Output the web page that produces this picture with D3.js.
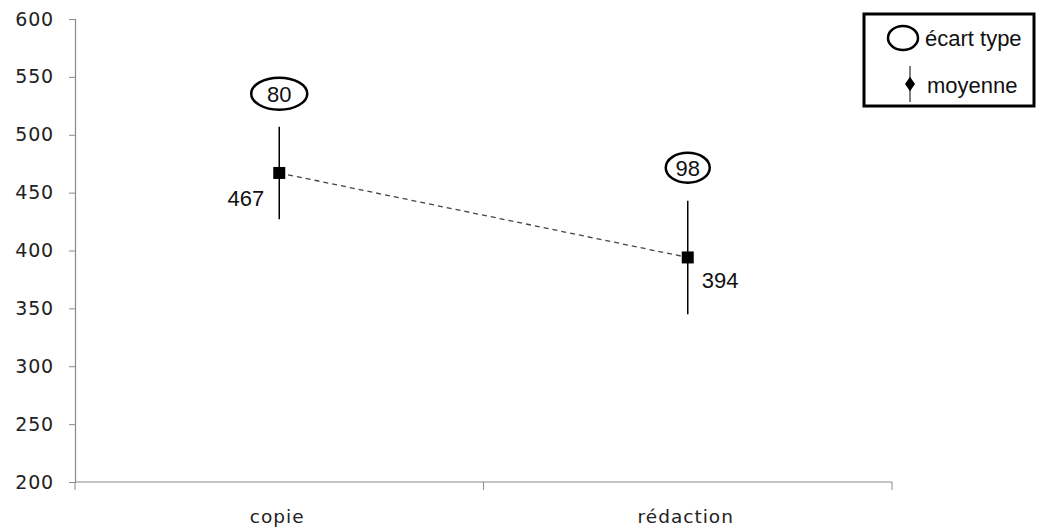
<!DOCTYPE html>
<html>
<head>
<meta charset="utf-8">
<script src="https://cdn.jsdelivr.net/npm/d3@7"></script>
<style>
  html, body { margin: 0; padding: 0; background: #fff; }
  svg { display: block; }
</style>
</head>
<body>
<svg id="chart" width="1041" height="531"></svg>
<script>
// Task conditions and their measured results
const categories = ["copie", "rédaction"];
const means = [467, 394];
const stdDevs = [80, 98];
const yTicks = [200, 250, 300, 350, 400, 450, 500, 550, 600];
const legendLabels = ["écart type", "moyenne"];

const svg = d3.select("#chart");
const W = 1041, H = 531;
svg.append("rect").attr("width", W).attr("height", H).attr("fill", "#fff");

const x = d3.scaleBand().domain(categories).range([75, 892]).paddingInner(0).paddingOuter(0);
const y = d3.scaleLinear().domain([200, 600]).range([482, 19]);

const axisColor = "#8a8a8a";
const tickFont = "'DejaVu Sans', Verdana, sans-serif";
const labelFont = "'Liberation Sans', Arial, sans-serif";

// Y axis
const yAxis = svg.append("g")
  .attr("transform", `translate(${x.range()[0]},0)`)
  .call(d3.axisLeft(y).tickValues(yTicks).tickSize(6).tickPadding(15).tickFormat(d3.format("d")));
yAxis.select(".domain").attr("stroke", axisColor).attr("stroke-width", 1.2);
yAxis.selectAll(".tick line").attr("stroke", axisColor);
yAxis.selectAll(".tick text")
  .attr("fill", "#222")
  .style("font-family", tickFont)
  .style("font-size", "19px")
  .style("letter-spacing", "0.8px");

// X axis: baseline with ticks on band boundaries, labels centred in bands
const xg = svg.append("g");
xg.append("line")
  .attr("x1", x.range()[0]).attr("x2", x.range()[1])
  .attr("y1", y(200)).attr("y2", y(200))
  .attr("stroke", axisColor).attr("stroke-width", 1.2);
const bounds = categories.map(c => x(c)).concat([x.range()[1]]);
xg.selectAll("line.tk").data(bounds).join("line")
  .attr("class", "tk")
  .attr("x1", d => d).attr("x2", d => d)
  .attr("y1", y(200)).attr("y2", y(200) + 8)
  .attr("stroke", axisColor);
xg.selectAll("text").data(categories).join("text")
  .attr("x", d => x(d) + x.bandwidth() / 2 - 2)
  .attr("y", 523)
  .attr("text-anchor", "middle")
  .attr("fill", "#222")
  .style("font-family", tickFont)
  .style("font-size", "18.5px")
  .style("letter-spacing", "1px")
  .text(d => d);

const cx = c => x(c) + x.bandwidth() / 2;

// Dashed line joining the means
const line = d3.line().x((d, i) => cx(categories[i])).y(d => y(d));
svg.append("path")
  .datum(means)
  .attr("d", line)
  .attr("fill", "none")
  .attr("stroke", "#444")
  .attr("stroke-width", 1.3)
  .attr("stroke-dasharray", "5,4");

// Error bars: mean ± half the standard deviation
svg.selectAll("line.err").data(categories).join("line")
  .attr("class", "err")
  .attr("x1", c => cx(c)).attr("x2", c => cx(c))
  .attr("y1", (c, i) => y(means[i] + stdDevs[i] / 2))
  .attr("y2", (c, i) => y(means[i] - stdDevs[i] / 2))
  .attr("stroke", "#000")
  .attr("stroke-width", 1.5);

// Mean markers
const ms = 12;
svg.selectAll("rect.mk").data(categories).join("rect")
  .attr("class", "mk")
  .attr("x", c => cx(c) - ms / 2)
  .attr("y", (c, i) => y(means[i]) - ms / 2)
  .attr("width", ms).attr("height", ms)
  .attr("fill", "#000");

// Mean value labels
const valueOffsets = [{dx: -15, dy: 33, anchor: "end"}, {dx: 14, dy: 30.5, anchor: "start"}];
svg.selectAll("text.val").data(categories).join("text")
  .attr("class", "val")
  .attr("x", (c, i) => cx(c) + valueOffsets[i].dx)
  .attr("y", (c, i) => y(means[i]) + valueOffsets[i].dy)
  .attr("text-anchor", (c, i) => valueOffsets[i].anchor)
  .style("font-family", labelFont)
  .style("font-size", "22px")
  .attr("fill", "#111")
  .text((c, i) => means[i]);

// Standard deviation labels in ellipses above each bar
const sdShape = [{rx: 28, ry: 16}, {rx: 22, ry: 15}];
const sdG = svg.selectAll("g.sd").data(categories).join("g")
  .attr("class", "sd")
  .attr("transform", (c, i) => `translate(${cx(c)},${y(means[i] + stdDevs[i] / 2) - 33})`);
sdG.append("ellipse")
  .attr("rx", (c, i) => sdShape[i].rx).attr("ry", (c, i) => sdShape[i].ry)
  .attr("fill", "#fff").attr("stroke", "#000").attr("stroke-width", 2.5);
sdG.append("text")
  .attr("text-anchor", "middle")
  .attr("dy", "0.36em")
  .style("font-family", labelFont)
  .style("font-size", "22px")
  .attr("fill", "#111")
  .text((c, i) => stdDevs[i]);

// Legend
const lg = svg.append("g");
lg.append("rect")
  .attr("x", 864).attr("y", 14).attr("width", 170).attr("height", 92)
  .attr("fill", "#fff").attr("stroke", "#000").attr("stroke-width", 3);
lg.append("ellipse")
  .attr("cx", 903).attr("cy", 38).attr("rx", 15).attr("ry", 12)
  .attr("fill", "none").attr("stroke", "#000").attr("stroke-width", 2.5);
lg.append("line")
  .attr("x1", 910).attr("x2", 910).attr("y1", 66).attr("y2", 102)
  .attr("stroke", "#000").attr("stroke-width", 1);
lg.append("path")
  .attr("d", d3.symbol(d3.symbolDiamond, 60)())
  .attr("transform", "translate(910,84) scale(1.2,1)")
  .attr("fill", "#000");
lg.selectAll("text").data(legendLabels).join("text")
  .attr("x", (d, i) => i === 0 ? 925 : 927)
  .attr("y", (d, i) => i === 0 ? 38 : 85)
  .attr("dy", "0.35em")
  .style("font-family", labelFont)
  .style("font-size", "22px")
  .attr("fill", "#111")
  .text(d => d);
</script>
</body>
</html>
